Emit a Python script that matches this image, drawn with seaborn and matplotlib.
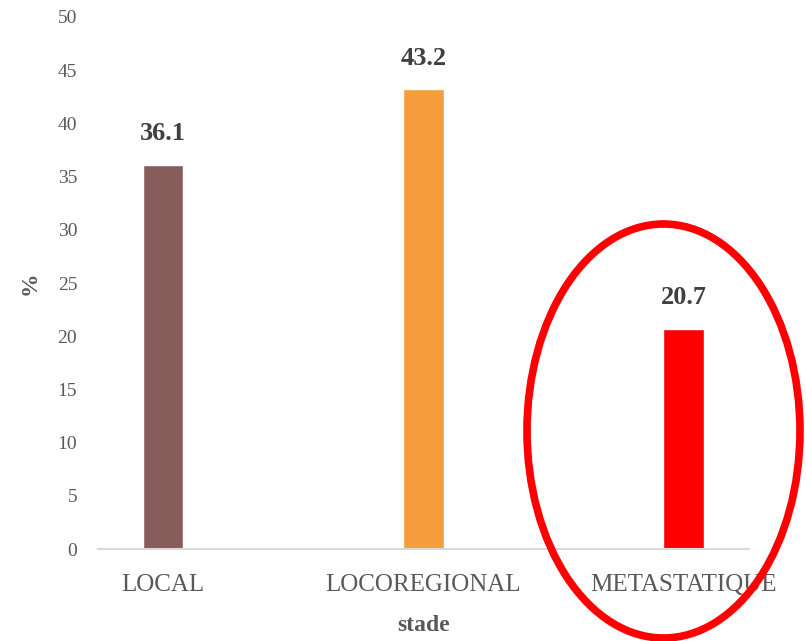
# Répartition selon le stade
import pandas as pd
import matplotlib.pyplot as plt
import seaborn as sns
from matplotlib.patches import Ellipse

stades = ["LOCAL", "LOCOREGIONAL", "METASTATIQUE"]
pourcentages = [36.1, 43.2, 20.7]
couleurs = ["#875D5C", "#F59D3C", "#FF0000"]

df = pd.DataFrame({"stade": stades, "pct": pourcentages})

sns.set_style("white")
plt.rcParams["font.family"] = ["Liberation Serif", "DejaVu Serif"]

fig = plt.figure(figsize=(8.06, 6.41), dpi=100)
ax = fig.add_axes([0.1216, 0.1435, 0.8072, 0.83])

sns.barplot(data=df, x="stade", y="pct", hue="stade", palette=couleurs,
            width=0.157, legend=False, ax=ax, saturation=1)

for c in ax.containers:
    ax.bar_label(c, fmt="%.1f", padding=14, fontsize=19, fontweight="bold",
                 color="#404040")

ax.set_xlim(-0.25, 2.25)
ax.set_ylim(0, 50)
ax.set_yticks(range(0, 51, 5))
sns.despine(ax=ax, left=True, top=True, right=True)
ax.spines["bottom"].set_color("#D9D9D9")
ax.spines["bottom"].set_linewidth(1.5)
ax.tick_params(axis="y", length=0, pad=15, labelsize=14, labelcolor="#595959")
ax.tick_params(axis="x", length=0, pad=18, labelsize=18, labelcolor="#595959")
ax.set_xlabel("stade", fontsize=17, fontweight="bold", color="#595959", labelpad=14)
ax.set_ylabel("%", fontsize=17, fontweight="bold", color="#595959", labelpad=12)

# ellipse rouge autour de METASTATIQUE
ell = Ellipse((663.5 / 806, 1 - 431 / 641), 273 / 806, 414 / 641,
              transform=fig.transFigure, fill=False, edgecolor="#FF0000",
              linewidth=5.5, clip_on=False)
fig.patches.append(ell)

plt.savefig("out.png", dpi=100)
